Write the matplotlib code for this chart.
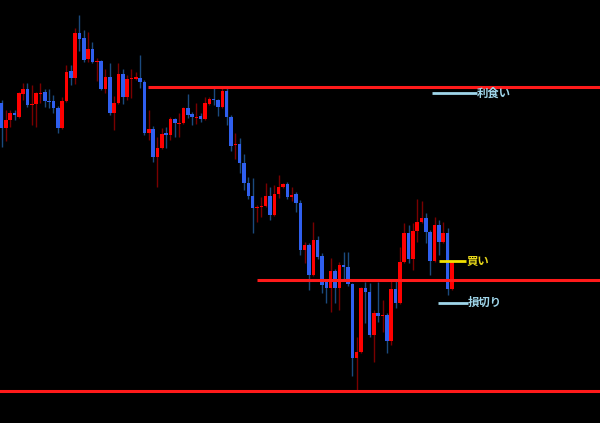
import matplotlib
matplotlib.use("Agg")
import matplotlib.pyplot as plt
import numpy as np

# OHLC values (price points)
opens = [320, 295, 303, 310, 306, 329, 334, 318, 319, 329, 331, 322, 322, 315, 295, 322, 352, 345, 390, 385,
         364, 374, 361, 362, 334, 346, 310, 320, 349, 326, 344, 344.5, 345, 341, 290, 294, 266, 275, 290, 288,
         304, 299, 300, 315, 309, 305, 307, 304, 319, 324, 323, 316, 332, 306, 278, 279, 260, 240, 227, 215,
         216, 217, 227, 208, 229, 236, 239, 226, 229, 220, 173, 178, 148, 183, 167, 141, 135, 152, 135, 158,
         156, 139, 65, 71, 135, 131, 88, 110, 107, 108, 82, 134, 120, 161, 190, 164, 192, 201, 205, 191,
         162, 198, 181, 190, 134]
highs = [323, 313, 313, 313, 331, 340, 340, 338, 331, 340, 334, 334, 328, 317, 326, 358, 358, 395, 408, 393,
         391, 381, 365, 363, 354, 360, 327, 360, 354, 348, 354, 351, 368, 343, 313, 297, 286, 295, 296, 306,
         305, 310, 316, 329, 311, 320, 310, 326, 326, 335, 324, 336, 335, 308, 290, 285, 269, 246, 245, 218,
         226, 240, 236, 238, 248, 240, 241, 236, 231, 223, 181, 180, 201, 187, 170, 143, 165, 154, 161, 171,
         171, 140, 86, 136, 141, 140, 113, 141, 123, 110, 144, 144, 176, 200, 198, 200, 224, 222, 210, 193,
         206, 203, 201, 195, 161]
lows = [276, 282, 296, 303, 305, 323, 316, 298, 296, 320, 316, 315, 310, 290, 294, 321, 338, 339, 372, 361,
        361, 360, 342, 333, 330, 308, 293, 319, 319, 323, 325, 343, 335, 288, 283, 261, 236, 274, 275, 283,
        286, 286, 299, 305, 298, 299, 301, 303, 318, 318, 307, 315, 298, 272, 264, 250, 233, 224, 190, 201,
        206, 216, 203, 207, 225, 235, 224, 222, 211, 168, 160, 133, 147, 164, 130, 120, 111, 120, 113, 143,
        137, 47, 33, 70, 100, 86, 61, 101, 91, 70, 78, 115, 119, 160, 160, 153, 181, 200, 180, 148,
        161, 168, 180, 128, 133]
closes = [295, 303, 310, 308, 330, 334, 318, 319, 330, 330, 322, 321, 315, 295, 322, 351, 345, 390, 384, 363,
          374, 361, 362, 334, 346, 310, 320, 349, 326, 344, 345, 345, 341, 290, 294, 266, 275, 289, 288, 304,
          300, 300, 315, 308, 306, 306, 304, 320, 324, 323, 316, 332, 306, 277, 279, 260, 240, 227, 215, 216,
          217, 227, 208, 229, 236, 239, 226, 228, 220, 173, 178, 148, 183, 166, 138, 135, 152, 135, 158, 156,
          139, 65, 71, 135, 131, 88, 110, 107, 108, 82, 134, 120, 161, 190, 164, 192, 201, 205, 191, 162,
          198, 181, 190, 134, 161]

# Horizontal levels: take profit, stop/entry zone, bottom line
level_values = [336, 143, 32]
level_starts = [33.8, 59.0, -1.0]

# Annotation labels
label_texts = ["利食い", "買い", "損切り"]
label_values = [330, 162, 120.5]
label_line_starts = [99.4, 101.0, 100.8]
label_line_ends = [109.8, 107.3, 107.7]
label_colors = ["#9fd6ea", "#f2e000", "#9fd6ea"]
label_text_colors = ["#9fd6ea", "#e8d81a", "#9fd6ea"]

UP_BODY = "#ff0000"
DOWN_BODY = "#2f5fef"
UP_WICK = "#7a0000"
DOWN_WICK = "#1b4a7e"

fig = plt.figure(figsize=(6.0, 4.23), dpi=100, facecolor="black")
ax = fig.add_axes([0, 0, 1, 1])
ax.set_facecolor("black")

n = len(opens)
x = np.arange(n)
o = np.array(opens, dtype=float)
c = np.array(closes, dtype=float)
h = np.array(highs, dtype=float)
l = np.array(lows, dtype=float)
up = c >= o

ax.vlines(x[up], l[up], h[up], color=UP_WICK, linewidth=1.0, zorder=2)
ax.vlines(x[~up], l[~up], h[~up], color=DOWN_WICK, linewidth=1.0, zorder=2)

bottoms = np.minimum(o, c)
heights = np.maximum(np.abs(c - o), 1.5)
ax.bar(x[up], heights[up], bottom=bottoms[up], width=0.82, color=UP_BODY, linewidth=0, zorder=3)
ax.bar(x[~up], heights[~up], bottom=bottoms[~up], width=0.82, color=DOWN_BODY, linewidth=0, zorder=3)

xmax = 138.2
for v, s in zip(level_values, level_starts):
    ax.plot([s, xmax + 2], [v, v], color="#ff1a1a", linewidth=2.2, solid_capstyle="butt", zorder=4)

for t, v, s, e, lc, tc in zip(label_texts, label_values, label_line_starts, label_line_ends,
                              label_colors, label_text_colors):
    ax.plot([s, e], [v, v], color=lc, linewidth=2.0, solid_capstyle="butt", zorder=5)
    ax.text(e, v, t, color=tc, fontsize=8.2, fontweight="bold",
            family=["Noto Sans CJK JP", "DejaVu Sans"], va="center", ha="left", zorder=6)

ax.set_xlim(-0.35, xmax)
ax.set_ylim(0, 423)
ax.axis("off")

fig.savefig("out.png", dpi=100, facecolor="black")
